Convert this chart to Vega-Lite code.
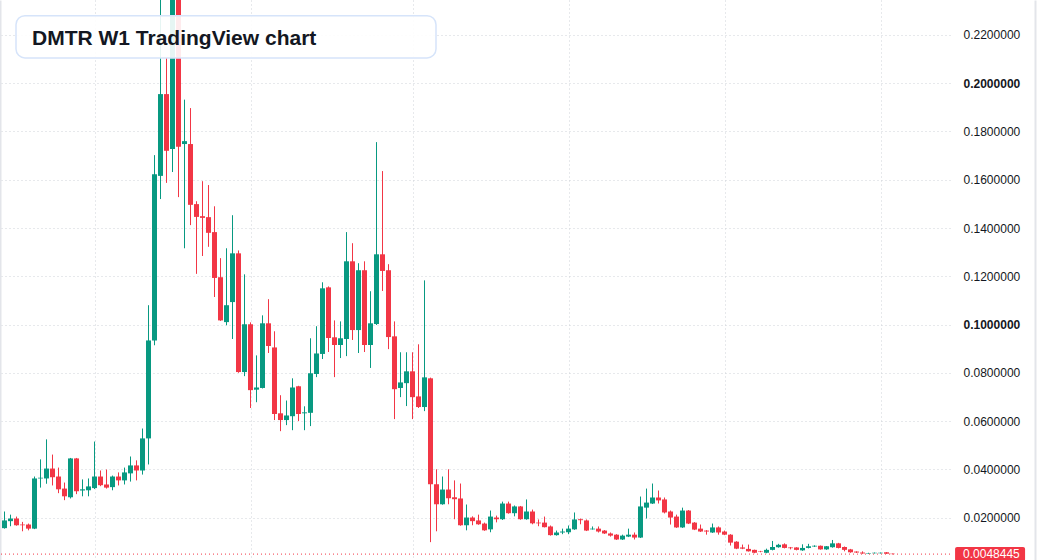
{
  "$schema": "https://vega.github.io/schema/vega-lite/v6.json",
  "width": 950,
  "height": 560,
  "padding": {"left": 0, "top": 0, "right": 87, "bottom": 0},
  "autosize": "none",
  "background": "#ffffff",
  "config": {"view": {"stroke": null}},
  "title": {"text": "DMTR W1 TradingView chart", "anchor": "start", "frame": "group", "orient": "top", "offset": -66, "dx": 32, "baseline": "alphabetic", "fontSize": 21, "fontWeight": "bold", "color": "#131722", "font": "Liberation Sans"},
  "resolve": {"axis": {"y": "independent"}},
  "datasets": {
    "ohlc": [
      {"date": "2023-09-18", "open": 0.0156, "high": 0.0225, "low": 0.0154, "close": 0.0188},
      {"date": "2023-09-25", "open": 0.0185, "high": 0.0212, "low": 0.0164, "close": 0.0196},
      {"date": "2023-10-02", "open": 0.0196, "high": 0.0204, "low": 0.0166, "close": 0.0168},
      {"date": "2023-10-09", "open": 0.0171, "high": 0.0182, "low": 0.0143, "close": 0.0168},
      {"date": "2023-10-16", "open": 0.0171, "high": 0.0175, "low": 0.0147, "close": 0.0154},
      {"date": "2023-10-23", "open": 0.0154, "high": 0.0370, "low": 0.0152, "close": 0.0362},
      {"date": "2023-10-30", "open": 0.0362, "high": 0.0441, "low": 0.0324, "close": 0.0365},
      {"date": "2023-11-06", "open": 0.0362, "high": 0.0524, "low": 0.0340, "close": 0.0403},
      {"date": "2023-11-13", "open": 0.0403, "high": 0.0461, "low": 0.0333, "close": 0.0367},
      {"date": "2023-11-20", "open": 0.0370, "high": 0.0407, "low": 0.0301, "close": 0.0317},
      {"date": "2023-11-27", "open": 0.0320, "high": 0.0345, "low": 0.0272, "close": 0.0288},
      {"date": "2023-12-04", "open": 0.0284, "high": 0.0447, "low": 0.0279, "close": 0.0445},
      {"date": "2023-12-11", "open": 0.0445, "high": 0.0447, "low": 0.0297, "close": 0.0309},
      {"date": "2023-12-18", "open": 0.0312, "high": 0.0358, "low": 0.0288, "close": 0.0317},
      {"date": "2023-12-25", "open": 0.0313, "high": 0.0362, "low": 0.0288, "close": 0.0329},
      {"date": "2024-01-01", "open": 0.0322, "high": 0.0515, "low": 0.0318, "close": 0.0370},
      {"date": "2024-01-08", "open": 0.0370, "high": 0.0395, "low": 0.0330, "close": 0.0334},
      {"date": "2024-01-15", "open": 0.0337, "high": 0.0399, "low": 0.0320, "close": 0.0324},
      {"date": "2024-01-22", "open": 0.0326, "high": 0.0374, "low": 0.0313, "close": 0.0370},
      {"date": "2024-01-29", "open": 0.0370, "high": 0.0387, "low": 0.0333, "close": 0.0354},
      {"date": "2024-02-05", "open": 0.0354, "high": 0.0407, "low": 0.0337, "close": 0.0387},
      {"date": "2024-02-12", "open": 0.0383, "high": 0.0453, "low": 0.0349, "close": 0.0416},
      {"date": "2024-02-19", "open": 0.0416, "high": 0.0437, "low": 0.0354, "close": 0.0395},
      {"date": "2024-02-26", "open": 0.0395, "high": 0.0569, "low": 0.0378, "close": 0.0528},
      {"date": "2024-03-04", "open": 0.0528, "high": 0.1080, "low": 0.0420, "close": 0.0934},
      {"date": "2024-03-11", "open": 0.0934, "high": 0.1702, "low": 0.0914, "close": 0.1623},
      {"date": "2024-03-18", "open": 0.1616, "high": 0.2400, "low": 0.1520, "close": 0.1955},
      {"date": "2024-03-25", "open": 0.1955, "high": 0.2105, "low": 0.1587, "close": 0.1720},
      {"date": "2024-04-01", "open": 0.1727, "high": 0.2620, "low": 0.1632, "close": 0.2480},
      {"date": "2024-04-08", "open": 0.2480, "high": 0.2550, "low": 0.1528, "close": 0.1737},
      {"date": "2024-04-15", "open": 0.1748, "high": 0.1932, "low": 0.1316, "close": 0.1760},
      {"date": "2024-04-22", "open": 0.1748, "high": 0.1897, "low": 0.1412, "close": 0.1496},
      {"date": "2024-04-29", "open": 0.1499, "high": 0.1511, "low": 0.1210, "close": 0.1446},
      {"date": "2024-05-06", "open": 0.1449, "high": 0.1594, "low": 0.1284, "close": 0.1442},
      {"date": "2024-05-13", "open": 0.1445, "high": 0.1578, "low": 0.1322, "close": 0.1380},
      {"date": "2024-05-20", "open": 0.1383, "high": 0.1490, "low": 0.1114, "close": 0.1193},
      {"date": "2024-05-27", "open": 0.1196, "high": 0.1275, "low": 0.1015, "close": 0.1017},
      {"date": "2024-06-03", "open": 0.1010, "high": 0.1316, "low": 0.0997, "close": 0.1080},
      {"date": "2024-06-10", "open": 0.1093, "high": 0.1453, "low": 0.0940, "close": 0.1295},
      {"date": "2024-06-17", "open": 0.1295, "high": 0.1307, "low": 0.0800, "close": 0.0803},
      {"date": "2024-06-24", "open": 0.0803, "high": 0.1208, "low": 0.0786, "close": 0.1001},
      {"date": "2024-07-01", "open": 0.1001, "high": 0.1009, "low": 0.0654, "close": 0.0728},
      {"date": "2024-07-08", "open": 0.0730, "high": 0.0872, "low": 0.0678, "close": 0.0739},
      {"date": "2024-07-15", "open": 0.0737, "high": 0.1038, "low": 0.0735, "close": 0.1005},
      {"date": "2024-07-22", "open": 0.1005, "high": 0.1105, "low": 0.0882, "close": 0.0911},
      {"date": "2024-07-29", "open": 0.0905, "high": 0.0972, "low": 0.0604, "close": 0.0629},
      {"date": "2024-08-05", "open": 0.0632, "high": 0.0707, "low": 0.0558, "close": 0.0604},
      {"date": "2024-08-12", "open": 0.0604, "high": 0.0685, "low": 0.0583, "close": 0.0623},
      {"date": "2024-08-19", "open": 0.0620, "high": 0.0777, "low": 0.0562, "close": 0.0739},
      {"date": "2024-08-26", "open": 0.0744, "high": 0.0746, "low": 0.0600, "close": 0.0629},
      {"date": "2024-09-02", "open": 0.0632, "high": 0.0661, "low": 0.0562, "close": 0.0636},
      {"date": "2024-09-09", "open": 0.0634, "high": 0.0943, "low": 0.0579, "close": 0.0798},
      {"date": "2024-09-16", "open": 0.0795, "high": 0.0993, "low": 0.0782, "close": 0.0880},
      {"date": "2024-09-23", "open": 0.0878, "high": 0.1175, "low": 0.0857, "close": 0.1150},
      {"date": "2024-09-30", "open": 0.1154, "high": 0.1158, "low": 0.0886, "close": 0.0944},
      {"date": "2024-10-07", "open": 0.0947, "high": 0.1017, "low": 0.0782, "close": 0.0915},
      {"date": "2024-10-14", "open": 0.0915, "high": 0.1013, "low": 0.0861, "close": 0.0943},
      {"date": "2024-10-21", "open": 0.0940, "high": 0.1383, "low": 0.0869, "close": 0.1262},
      {"date": "2024-10-28", "open": 0.1262, "high": 0.1337, "low": 0.0936, "close": 0.0977},
      {"date": "2024-11-04", "open": 0.0977, "high": 0.1254, "low": 0.0882, "close": 0.1225},
      {"date": "2024-11-11", "open": 0.1225, "high": 0.1262, "low": 0.0886, "close": 0.0915},
      {"date": "2024-11-18", "open": 0.0915, "high": 0.1138, "low": 0.0820, "close": 0.1005},
      {"date": "2024-11-25", "open": 0.1002, "high": 0.1756, "low": 0.0998, "close": 0.1291},
      {"date": "2024-12-02", "open": 0.1291, "high": 0.1636, "low": 0.1139, "close": 0.1222},
      {"date": "2024-12-09", "open": 0.1225, "high": 0.1250, "low": 0.0898, "close": 0.0948},
      {"date": "2024-12-16", "open": 0.0951, "high": 0.1013, "low": 0.0608, "close": 0.0732},
      {"date": "2024-12-23", "open": 0.0737, "high": 0.0885, "low": 0.0699, "close": 0.0760},
      {"date": "2024-12-30", "open": 0.0757, "high": 0.0885, "low": 0.0662, "close": 0.0806},
      {"date": "2025-01-06", "open": 0.0806, "high": 0.0885, "low": 0.0608, "close": 0.0699},
      {"date": "2025-01-13", "open": 0.0702, "high": 0.0918, "low": 0.0654, "close": 0.0658},
      {"date": "2025-01-20", "open": 0.0658, "high": 0.1183, "low": 0.0641, "close": 0.0781},
      {"date": "2025-01-27", "open": 0.0777, "high": 0.0780, "low": 0.0098, "close": 0.0338},
      {"date": "2025-02-03", "open": 0.0338, "high": 0.0400, "low": 0.0143, "close": 0.0255},
      {"date": "2025-02-10", "open": 0.0255, "high": 0.0370, "low": 0.0253, "close": 0.0316},
      {"date": "2025-02-17", "open": 0.0316, "high": 0.0400, "low": 0.0255, "close": 0.0280},
      {"date": "2025-02-24", "open": 0.0284, "high": 0.0354, "low": 0.0193, "close": 0.0276},
      {"date": "2025-03-03", "open": 0.0279, "high": 0.0341, "low": 0.0166, "close": 0.0168},
      {"date": "2025-03-10", "open": 0.0168, "high": 0.0254, "low": 0.0147, "close": 0.0200},
      {"date": "2025-03-17", "open": 0.0200, "high": 0.0205, "low": 0.0168, "close": 0.0185},
      {"date": "2025-03-24", "open": 0.0188, "high": 0.0212, "low": 0.0170, "close": 0.0172},
      {"date": "2025-03-31", "open": 0.0175, "high": 0.0179, "low": 0.0145, "close": 0.0147},
      {"date": "2025-04-07", "open": 0.0151, "high": 0.0229, "low": 0.0139, "close": 0.0204},
      {"date": "2025-04-14", "open": 0.0200, "high": 0.0208, "low": 0.0180, "close": 0.0193},
      {"date": "2025-04-21", "open": 0.0193, "high": 0.0266, "low": 0.0190, "close": 0.0258},
      {"date": "2025-04-28", "open": 0.0258, "high": 0.0266, "low": 0.0216, "close": 0.0218},
      {"date": "2025-05-05", "open": 0.0218, "high": 0.0250, "low": 0.0205, "close": 0.0246},
      {"date": "2025-05-12", "open": 0.0246, "high": 0.0248, "low": 0.0191, "close": 0.0193},
      {"date": "2025-05-19", "open": 0.0193, "high": 0.0275, "low": 0.0191, "close": 0.0225},
      {"date": "2025-05-26", "open": 0.0225, "high": 0.0233, "low": 0.0172, "close": 0.0176},
      {"date": "2025-06-02", "open": 0.0179, "high": 0.0192, "low": 0.0164, "close": 0.0176},
      {"date": "2025-06-09", "open": 0.0179, "high": 0.0204, "low": 0.0159, "close": 0.0160},
      {"date": "2025-06-16", "open": 0.0163, "high": 0.0167, "low": 0.0125, "close": 0.0127},
      {"date": "2025-06-23", "open": 0.0127, "high": 0.0146, "low": 0.0125, "close": 0.0138},
      {"date": "2025-06-30", "open": 0.0138, "high": 0.0154, "low": 0.0131, "close": 0.0142},
      {"date": "2025-07-07", "open": 0.0139, "high": 0.0167, "low": 0.0131, "close": 0.0154},
      {"date": "2025-07-14", "open": 0.0151, "high": 0.0221, "low": 0.0149, "close": 0.0192},
      {"date": "2025-07-21", "open": 0.0193, "high": 0.0196, "low": 0.0172, "close": 0.0189},
      {"date": "2025-07-28", "open": 0.0188, "high": 0.0192, "low": 0.0144, "close": 0.0146},
      {"date": "2025-08-04", "open": 0.0151, "high": 0.0163, "low": 0.0150, "close": 0.0154},
      {"date": "2025-08-11", "open": 0.0154, "high": 0.0163, "low": 0.0138, "close": 0.0142},
      {"date": "2025-08-18", "open": 0.0146, "high": 0.0148, "low": 0.0132, "close": 0.0134},
      {"date": "2025-08-25", "open": 0.0134, "high": 0.0138, "low": 0.0121, "close": 0.0125},
      {"date": "2025-09-01", "open": 0.0129, "high": 0.0131, "low": 0.0107, "close": 0.0109},
      {"date": "2025-09-08", "open": 0.0109, "high": 0.0129, "low": 0.0107, "close": 0.0125},
      {"date": "2025-09-15", "open": 0.0121, "high": 0.0154, "low": 0.0119, "close": 0.0129},
      {"date": "2025-09-22", "open": 0.0129, "high": 0.0138, "low": 0.0109, "close": 0.0117},
      {"date": "2025-09-29", "open": 0.0117, "high": 0.0287, "low": 0.0115, "close": 0.0246},
      {"date": "2025-10-06", "open": 0.0241, "high": 0.0320, "low": 0.0196, "close": 0.0262},
      {"date": "2025-10-13", "open": 0.0258, "high": 0.0341, "low": 0.0256, "close": 0.0283},
      {"date": "2025-10-20", "open": 0.0283, "high": 0.0312, "low": 0.0258, "close": 0.0271},
      {"date": "2025-10-27", "open": 0.0275, "high": 0.0283, "low": 0.0217, "close": 0.0221},
      {"date": "2025-11-03", "open": 0.0225, "high": 0.0229, "low": 0.0171, "close": 0.0200},
      {"date": "2025-11-10", "open": 0.0204, "high": 0.0212, "low": 0.0157, "close": 0.0159},
      {"date": "2025-11-17", "open": 0.0159, "high": 0.0241, "low": 0.0157, "close": 0.0229},
      {"date": "2025-11-24", "open": 0.0229, "high": 0.0231, "low": 0.0173, "close": 0.0175},
      {"date": "2025-12-01", "open": 0.0179, "high": 0.0181, "low": 0.0148, "close": 0.0150},
      {"date": "2025-12-08", "open": 0.0154, "high": 0.0171, "low": 0.0140, "close": 0.0142},
      {"date": "2025-12-15", "open": 0.0146, "high": 0.0148, "low": 0.0129, "close": 0.0142},
      {"date": "2025-12-22", "open": 0.0138, "high": 0.0175, "low": 0.0136, "close": 0.0159},
      {"date": "2025-12-29", "open": 0.0159, "high": 0.0163, "low": 0.0129, "close": 0.0138},
      {"date": "2026-01-05", "open": 0.0142, "high": 0.0146, "low": 0.0127, "close": 0.0129},
      {"date": "2026-01-12", "open": 0.0129, "high": 0.0131, "low": 0.0084, "close": 0.0096},
      {"date": "2026-01-19", "open": 0.0100, "high": 0.0102, "low": 0.0069, "close": 0.0071},
      {"date": "2026-01-26", "open": 0.0076, "high": 0.0088, "low": 0.0069, "close": 0.0071},
      {"date": "2026-02-02", "open": 0.0070, "high": 0.0088, "low": 0.0059, "close": 0.0060},
      {"date": "2026-02-09", "open": 0.0066, "high": 0.0067, "low": 0.0052, "close": 0.0054},
      {"date": "2026-02-16", "open": 0.0060, "high": 0.0062, "low": 0.0056, "close": 0.0058},
      {"date": "2026-02-23", "open": 0.0054, "high": 0.0071, "low": 0.0052, "close": 0.0066},
      {"date": "2026-03-02", "open": 0.0066, "high": 0.0103, "low": 0.0064, "close": 0.0078},
      {"date": "2026-03-09", "open": 0.0077, "high": 0.0091, "low": 0.0075, "close": 0.0087},
      {"date": "2026-03-16", "open": 0.0089, "high": 0.0093, "low": 0.0072, "close": 0.0074},
      {"date": "2026-03-23", "open": 0.0076, "high": 0.0078, "low": 0.0068, "close": 0.0073},
      {"date": "2026-03-30", "open": 0.0076, "high": 0.0077, "low": 0.0064, "close": 0.0066},
      {"date": "2026-04-06", "open": 0.0064, "high": 0.0089, "low": 0.0062, "close": 0.0074},
      {"date": "2026-04-13", "open": 0.0074, "high": 0.0091, "low": 0.0072, "close": 0.0081},
      {"date": "2026-04-20", "open": 0.0080, "high": 0.0085, "low": 0.0078, "close": 0.0083},
      {"date": "2026-04-27", "open": 0.0083, "high": 0.0084, "low": 0.0067, "close": 0.0068},
      {"date": "2026-05-04", "open": 0.0068, "high": 0.0082, "low": 0.0066, "close": 0.0081},
      {"date": "2026-05-11", "open": 0.0077, "high": 0.0107, "low": 0.0075, "close": 0.0093},
      {"date": "2026-05-18", "open": 0.0093, "high": 0.0095, "low": 0.0072, "close": 0.0074},
      {"date": "2026-05-25", "open": 0.0078, "high": 0.0080, "low": 0.0060, "close": 0.0066},
      {"date": "2026-06-01", "open": 0.0068, "high": 0.0070, "low": 0.0054, "close": 0.0056},
      {"date": "2026-06-08", "open": 0.0059, "high": 0.0060, "low": 0.0053, "close": 0.0055},
      {"date": "2026-06-15", "open": 0.0055, "high": 0.0060, "low": 0.0050, "close": 0.0051},
      {"date": "2026-06-22", "open": 0.0051, "high": 0.0054, "low": 0.0050, "close": 0.0053},
      {"date": "2026-06-29", "open": 0.0052, "high": 0.0055, "low": 0.0051, "close": 0.0054},
      {"date": "2026-07-06", "open": 0.0052, "high": 0.0055, "low": 0.0051, "close": 0.0054},
      {"date": "2026-07-13", "open": 0.0056, "high": 0.0057, "low": 0.0049, "close": 0.0050},
      {"date": "2026-07-20", "open": 0.0050, "high": 0.0051, "low": 0.0047, "close": 0.0048445}
    ]
  },
  "data": {"name": "ohlc"},
  "layer": [
    {
      "mark": {"type": "rule", "strokeWidth": 1, "clip": true},
      "encoding": {
        "x": {
          "field": "date", "type": "temporal",
          "scale": {"type": "utc", "nice": false, "padding": 0, "domain": [{"year": 2023, "month": 9, "date": 12, "hours": 18, "utc": true}, {"year": 2026, "month": 9, "date": 25, "hours": 2, "utc": true}]},
          "axis": {
            "title": null, "labels": false, "ticks": false, "domain": false,
            "grid": true, "gridColor": "#cfd2d8", "gridDash": [1, 3], "gridWidth": 1,
            "values": [
              {"year": 2024, "month": 1, "date": 1, "utc": true},
              {"year": 2024, "month": 7, "date": 1, "utc": true},
              {"year": 2025, "month": 1, "date": 6, "utc": true},
              {"year": 2025, "month": 7, "date": 7, "utc": true},
              {"year": 2026, "month": 1, "date": 5, "utc": true},
              {"year": 2026, "month": 7, "date": 6, "utc": true}
            ]
          }
        },
        "y": {
          "field": "low", "type": "quantitative",
          "scale": {"domain": [0.0024, 0.2345], "zero": false, "nice": false},
          "axis": {
            "orient": "right", "title": null, "ticks": false, "domain": false,
            "values": [0.02, 0.04, 0.06, 0.08, 0.1, 0.12, 0.14, 0.16, 0.18, 0.2, 0.22],
            "format": ".7f", "labelAlign": "left", "labelPadding": 13,
            "labelFont": "Liberation Sans", "labelFontSize": 12, "labelColor": "#131722",
            "labelFontWeight": {"condition": {"test": "datum.value == 0.1 || datum.value == 0.2", "value": "bold"}, "value": "normal"},
            "grid": true, "gridColor": "#cfd2d8", "gridDash": [1, 3], "gridWidth": 1
          }
        },
        "y2": {"field": "high"},
        "color": {"condition": {"test": "datum.close >= datum.open", "value": "#089981"}, "value": "#f23645"}
      }
    },
    {
      "mark": {"type": "bar", "size": 5, "clip": true},
      "encoding": {
        "x": {"field": "date", "type": "temporal"},
        "y": {"field": "open", "type": "quantitative", "axis": null},
        "y2": {"field": "close"},
        "color": {"condition": {"test": "datum.close >= datum.open", "value": "#089981"}, "value": "#f23645"}
      }
    },
    {
      "transform": [{"filter": "datum.close == 0.0048445"}],
      "mark": {"type": "rule", "color": "#f23645", "strokeDash": [1, 3], "strokeWidth": 1},
      "encoding": {"y": {"field": "close", "type": "quantitative", "axis": {"orient": "right", "offset": 85, "title": null, "labels": false, "ticks": false, "grid": false, "domain": true, "domainColor": "#e3e5ea", "domainWidth": 2}}}
    },
    {
      "transform": [{"filter": "datum.close == 0.0048445"}],
      "mark": {"type": "rect", "color": "#f23645", "cornerRadius": 2},
      "encoding": {
        "x": {"datum": {"year": 2026, "month": 10, "date": 1, "hours": 0, "utc": true}, "type": "temporal"},
        "x2": {"datum": {"year": 2026, "month": 12, "date": 21, "hours": 16, "utc": true}},
        "y": {"datum": 0.0078, "type": "quantitative", "axis": null},
        "y2": {"datum": 0.0019}
      }
    },
    {
      "transform": [{"filter": "datum.close == 0.0048445"}],
      "mark": {"type": "text", "color": "#ffffff", "align": "left", "baseline": "middle", "font": "Liberation Sans", "fontSize": 12},
      "encoding": {
        "x": {"datum": {"year": 2026, "month": 10, "date": 10, "hours": 8, "utc": true}, "type": "temporal"},
        "y": {"field": "close", "type": "quantitative", "axis": null},
        "text": {"field": "close", "type": "quantitative", "format": ".7f"}
      }
    },
    {
      "data": {"values": [{"label": "box"}]},
      "mark": {"type": "rect", "fill": "#ffffff", "fillOpacity": 0.9, "stroke": "#d6e4fa", "strokeWidth": 1.5, "cornerRadius": 9},
      "encoding": {
        "x": {"datum": {"year": 2023, "month": 10, "date": 1, "hours": 10, "utc": true}, "type": "temporal"},
        "x2": {"datum": {"year": 2025, "month": 2, "date": 2, "hours": 10, "utc": true}},
        "y": {"datum": 0.2280, "type": "quantitative", "axis": {"orient": "left", "title": null, "labels": false, "ticks": false, "grid": false, "domain": true, "domainColor": "#e3e5ea", "domainWidth": 2}},
        "y2": {"datum": 0.2105}
      }
    }
  ]
}
